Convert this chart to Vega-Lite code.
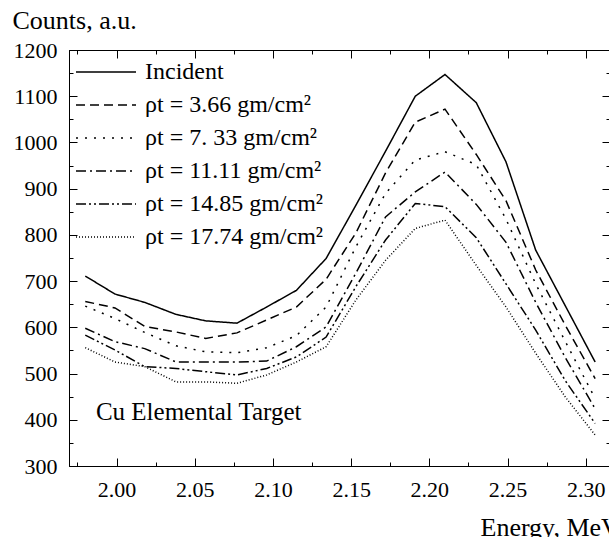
{
  "$schema": "https://vega.github.io/schema/vega-lite/v6.json",
  "autosize": {"type": "none"},
  "padding": {"left": 69, "top": 50, "right": 0, "bottom": 71},
  "width": 541,
  "height": 416,
  "background": "white",
  "config": {
    "view": {"stroke": "black", "strokeWidth": 1},
    "font": "Liberation Serif",
    "style": {
      "guide-title": {"font": "Liberation Serif", "fontSize": 26, "fontWeight": "normal", "fill": "black"},
      "guide-label": {"font": "Liberation Serif", "fontSize": 22, "fill": "black"}
    },
    "axis": {
      "domainColor": "black", "tickColor": "black", "labelColor": "black", "titleColor": "black",
      "labelFont": "Liberation Serif", "titleFont": "Liberation Serif", "grid": false,
      "labelFontSize": 22, "titleFontSize": 26, "titleFontWeight": "normal", "tickWidth": 1, "domainWidth": 1
    },
    "legend": {
      "orient": "none", "legendX": 25, "legendY": 10, "padding": 0,
      "symbolType": "M-5,0H5", "symbolSize": 144, "symbolStrokeWidth": 1.5, "symbolStrokeColor": "black",
      "labelFont": "Liberation Serif", "labelFontSize": 24, "labelColor": "black", "labelOffset": 27,
      "rowPadding": 9, "labelLimit": 400
    }
  },
  "datasets": {
    "curves": [
      {"series": "Incident", "energy": 1.980, "counts": 711},
      {"series": "Incident", "energy": 1.999, "counts": 672},
      {"series": "Incident", "energy": 2.018, "counts": 654},
      {"series": "Incident", "energy": 2.038, "counts": 628},
      {"series": "Incident", "energy": 2.057, "counts": 614},
      {"series": "Incident", "energy": 2.077, "counts": 609},
      {"series": "Incident", "energy": 2.096, "counts": 644},
      {"series": "Incident", "energy": 2.115, "counts": 680},
      {"series": "Incident", "energy": 2.134, "counts": 749},
      {"series": "Incident", "energy": 2.153, "counts": 864},
      {"series": "Incident", "energy": 2.172, "counts": 981},
      {"series": "Incident", "energy": 2.191, "counts": 1100},
      {"series": "Incident", "energy": 2.210, "counts": 1147},
      {"series": "Incident", "energy": 2.230, "counts": 1086},
      {"series": "Incident", "energy": 2.249, "counts": 958},
      {"series": "Incident", "energy": 2.268, "counts": 767},
      {"series": "Incident", "energy": 2.287, "counts": 646},
      {"series": "Incident", "energy": 2.306, "counts": 525},

      {"series": "ρt = 3.66 gm/cm²", "energy": 1.980, "counts": 656},
      {"series": "ρt = 3.66 gm/cm²", "energy": 1.999, "counts": 642},
      {"series": "ρt = 3.66 gm/cm²", "energy": 2.018, "counts": 602},
      {"series": "ρt = 3.66 gm/cm²", "energy": 2.038, "counts": 590},
      {"series": "ρt = 3.66 gm/cm²", "energy": 2.057, "counts": 576},
      {"series": "ρt = 3.66 gm/cm²", "energy": 2.077, "counts": 588},
      {"series": "ρt = 3.66 gm/cm²", "energy": 2.096, "counts": 616},
      {"series": "ρt = 3.66 gm/cm²", "energy": 2.115, "counts": 644},
      {"series": "ρt = 3.66 gm/cm²", "energy": 2.134, "counts": 704},
      {"series": "ρt = 3.66 gm/cm²", "energy": 2.153, "counts": 804},
      {"series": "ρt = 3.66 gm/cm²", "energy": 2.172, "counts": 934},
      {"series": "ρt = 3.66 gm/cm²", "energy": 2.191, "counts": 1044},
      {"series": "ρt = 3.66 gm/cm²", "energy": 2.210, "counts": 1072},
      {"series": "ρt = 3.66 gm/cm²", "energy": 2.230, "counts": 974},
      {"series": "ρt = 3.66 gm/cm²", "energy": 2.249, "counts": 874},
      {"series": "ρt = 3.66 gm/cm²", "energy": 2.268, "counts": 724},
      {"series": "ρt = 3.66 gm/cm²", "energy": 2.287, "counts": 604},
      {"series": "ρt = 3.66 gm/cm²", "energy": 2.306, "counts": 489},

      {"series": "ρt = 7. 33 gm/cm²", "energy": 1.980, "counts": 646},
      {"series": "ρt = 7. 33 gm/cm²", "energy": 1.999, "counts": 619},
      {"series": "ρt = 7. 33 gm/cm²", "energy": 2.018, "counts": 589},
      {"series": "ρt = 7. 33 gm/cm²", "energy": 2.038, "counts": 560},
      {"series": "ρt = 7. 33 gm/cm²", "energy": 2.057, "counts": 547},
      {"series": "ρt = 7. 33 gm/cm²", "energy": 2.077, "counts": 545},
      {"series": "ρt = 7. 33 gm/cm²", "energy": 2.096, "counts": 556},
      {"series": "ρt = 7. 33 gm/cm²", "energy": 2.115, "counts": 582},
      {"series": "ρt = 7. 33 gm/cm²", "energy": 2.134, "counts": 644},
      {"series": "ρt = 7. 33 gm/cm²", "energy": 2.153, "counts": 774},
      {"series": "ρt = 7. 33 gm/cm²", "energy": 2.172, "counts": 890},
      {"series": "ρt = 7. 33 gm/cm²", "energy": 2.191, "counts": 962},
      {"series": "ρt = 7. 33 gm/cm²", "energy": 2.210, "counts": 980},
      {"series": "ρt = 7. 33 gm/cm²", "energy": 2.230, "counts": 952},
      {"series": "ρt = 7. 33 gm/cm²", "energy": 2.249, "counts": 834},
      {"series": "ρt = 7. 33 gm/cm²", "energy": 2.268, "counts": 694},
      {"series": "ρt = 7. 33 gm/cm²", "energy": 2.287, "counts": 569},
      {"series": "ρt = 7. 33 gm/cm²", "energy": 2.306, "counts": 446},

      {"series": "ρt = 11.11 gm/cm²", "energy": 1.980, "counts": 598},
      {"series": "ρt = 11.11 gm/cm²", "energy": 1.999, "counts": 569},
      {"series": "ρt = 11.11 gm/cm²", "energy": 2.018, "counts": 554},
      {"series": "ρt = 11.11 gm/cm²", "energy": 2.038, "counts": 525},
      {"series": "ρt = 11.11 gm/cm²", "energy": 2.057, "counts": 525},
      {"series": "ρt = 11.11 gm/cm²", "energy": 2.077, "counts": 525},
      {"series": "ρt = 11.11 gm/cm²", "energy": 2.096, "counts": 527},
      {"series": "ρt = 11.11 gm/cm²", "energy": 2.115, "counts": 558},
      {"series": "ρt = 11.11 gm/cm²", "energy": 2.134, "counts": 601},
      {"series": "ρt = 11.11 gm/cm²", "energy": 2.153, "counts": 717},
      {"series": "ρt = 11.11 gm/cm²", "energy": 2.172, "counts": 839},
      {"series": "ρt = 11.11 gm/cm²", "energy": 2.191, "counts": 893},
      {"series": "ρt = 11.11 gm/cm²", "energy": 2.210, "counts": 936},
      {"series": "ρt = 11.11 gm/cm²", "energy": 2.230, "counts": 866},
      {"series": "ρt = 11.11 gm/cm²", "energy": 2.249, "counts": 784},
      {"series": "ρt = 11.11 gm/cm²", "energy": 2.268, "counts": 654},
      {"series": "ρt = 11.11 gm/cm²", "energy": 2.287, "counts": 534},
      {"series": "ρt = 11.11 gm/cm²", "energy": 2.306, "counts": 424},

      {"series": "ρt = 14.85 gm/cm²", "energy": 1.980, "counts": 583},
      {"series": "ρt = 14.85 gm/cm²", "energy": 1.999, "counts": 551},
      {"series": "ρt = 14.85 gm/cm²", "energy": 2.018, "counts": 515},
      {"series": "ρt = 14.85 gm/cm²", "energy": 2.038, "counts": 511},
      {"series": "ρt = 14.85 gm/cm²", "energy": 2.057, "counts": 504},
      {"series": "ρt = 14.85 gm/cm²", "energy": 2.077, "counts": 497},
      {"series": "ρt = 14.85 gm/cm²", "energy": 2.096, "counts": 511},
      {"series": "ρt = 14.85 gm/cm²", "energy": 2.115, "counts": 536},
      {"series": "ρt = 14.85 gm/cm²", "energy": 2.134, "counts": 579},
      {"series": "ρt = 14.85 gm/cm²", "energy": 2.153, "counts": 688},
      {"series": "ρt = 14.85 gm/cm²", "energy": 2.172, "counts": 789},
      {"series": "ρt = 14.85 gm/cm²", "energy": 2.191, "counts": 868},
      {"series": "ρt = 14.85 gm/cm²", "energy": 2.210, "counts": 861},
      {"series": "ρt = 14.85 gm/cm²", "energy": 2.230, "counts": 794},
      {"series": "ρt = 14.85 gm/cm²", "energy": 2.249, "counts": 694},
      {"series": "ρt = 14.85 gm/cm²", "energy": 2.268, "counts": 594},
      {"series": "ρt = 14.85 gm/cm²", "energy": 2.287, "counts": 484},
      {"series": "ρt = 14.85 gm/cm²", "energy": 2.306, "counts": 392},

      {"series": "ρt = 17.74 gm/cm²", "energy": 1.980, "counts": 556},
      {"series": "ρt = 17.74 gm/cm²", "energy": 1.999, "counts": 525},
      {"series": "ρt = 17.74 gm/cm²", "energy": 2.018, "counts": 515},
      {"series": "ρt = 17.74 gm/cm²", "energy": 2.038, "counts": 482},
      {"series": "ρt = 17.74 gm/cm²", "energy": 2.057, "counts": 482},
      {"series": "ρt = 17.74 gm/cm²", "energy": 2.077, "counts": 479},
      {"series": "ρt = 17.74 gm/cm²", "energy": 2.096, "counts": 497},
      {"series": "ρt = 17.74 gm/cm²", "energy": 2.115, "counts": 525},
      {"series": "ρt = 17.74 gm/cm²", "energy": 2.134, "counts": 558},
      {"series": "ρt = 17.74 gm/cm²", "energy": 2.153, "counts": 659},
      {"series": "ρt = 17.74 gm/cm²", "energy": 2.172, "counts": 745},
      {"series": "ρt = 17.74 gm/cm²", "energy": 2.191, "counts": 814},
      {"series": "ρt = 17.74 gm/cm²", "energy": 2.210, "counts": 832},
      {"series": "ρt = 17.74 gm/cm²", "energy": 2.230, "counts": 734},
      {"series": "ρt = 17.74 gm/cm²", "energy": 2.249, "counts": 644},
      {"series": "ρt = 17.74 gm/cm²", "energy": 2.268, "counts": 544},
      {"series": "ρt = 17.74 gm/cm²", "energy": 2.287, "counts": 449},
      {"series": "ρt = 17.74 gm/cm²", "energy": 2.306, "counts": 367}
    ],
    "notes": [
      {"label": "Cu Elemental Target", "energy": 1.9868, "counts": 400}
    ]
  },
  "layer": [
    {
      "data": {"name": "curves"},
      "mark": {"type": "line", "color": "black", "strokeWidth": 1.5},
      "encoding": {
        "x": {
          "field": "energy", "type": "quantitative",
          "scale": {"domain": [1.9696, 2.3155], "nice": false, "zero": false},
          "axis": {
            "orient": "bottom",
            "values": [1.975, 2.0, 2.025, 2.05, 2.075, 2.1, 2.125, 2.15, 2.175, 2.2, 2.225, 2.25, 2.275, 2.3],
            "labelExpr": "abs(datum.value*20 - round(datum.value*20)) < 0.001 ? format(datum.value, '.2f') : ''",
            "tickSize": {"condition": {"test": "abs(datum.value*20 - round(datum.value*20)) < 0.001", "value": -8}, "value": -4},
            "labelPadding": 21,
            "labelFlush": false,
            "labelFont": "Liberation Serif",
            "titleFont": "Liberation Serif",
            "title": "Energy, MeV",
            "titleX": 411, "titleY": 69, "titleAlign": "left", "titleBaseline": "alphabetic", "titleAnchor": "start"
          }
        },
        "y": {
          "field": "counts", "type": "quantitative",
          "scale": {"domain": [300, 1200], "nice": false, "zero": false},
          "axis": {
            "orient": "left",
            "values": [300, 350, 400, 450, 500, 550, 600, 650, 700, 750, 800, 850, 900, 950, 1000, 1050, 1100, 1150, 1200],
            "labelExpr": "datum.value % 100 === 0 ? datum.value : ''",
            "tickSize": {"condition": {"test": "datum.value % 100 === 0", "value": -8}, "value": -4},
            "labelPadding": 20,
            "labelFlush": false,
            "labelFont": "Liberation Serif",
            "titleFont": "Liberation Serif",
            "title": "Counts, a.u.",
            "titleAngle": 0, "titleX": -57, "titleY": -22, "titleAlign": "left", "titleBaseline": "alphabetic", "titleAnchor": "start"
          }
        },
        "strokeDash": {
          "field": "series", "type": "nominal",
          "scale": {
            "domain": ["Incident", "ρt = 3.66 gm/cm²", "ρt = 7. 33 gm/cm²", "ρt = 11.11 gm/cm²", "ρt = 14.85 gm/cm²", "ρt = 17.74 gm/cm²"],
            "range": [[1, 0], [9, 5], [2, 7], [10, 4, 2, 4], [10, 3, 2, 3, 2, 3], [1, 2]]
          },
          "legend": {"title": null}
        }
      }
    },
    {
      "data": {"name": "notes"},
      "mark": {"type": "text", "align": "left", "baseline": "alphabetic", "font": "Liberation Serif", "fontSize": 25, "color": "black"},
      "encoding": {
        "text": {"field": "label"},
        "x": {
          "field": "energy", "type": "quantitative",
          "scale": {"domain": [1.9696, 2.3155], "nice": false, "zero": false},
          "axis": {
            "orient": "top", "title": null, "labels": false,
            "values": [1.975, 2.0, 2.025, 2.05, 2.075, 2.1, 2.125, 2.15, 2.175, 2.2, 2.225, 2.25, 2.275, 2.3],
            "tickSize": {"condition": {"test": "abs(datum.value*20 - round(datum.value*20)) < 0.001", "value": -8}, "value": -4}
          }
        },
        "y": {
          "field": "counts", "type": "quantitative",
          "scale": {"domain": [300, 1200], "nice": false, "zero": false},
          "axis": {
            "orient": "right", "title": null, "labels": false,
            "values": [300, 350, 400, 450, 500, 550, 600, 650, 700, 750, 800, 850, 900, 950, 1000, 1050, 1100, 1150, 1200],
            "tickSize": {"condition": {"test": "datum.value % 100 === 0", "value": -8}, "value": -4}
          }
        }
      }
    }
  ],
  "resolve": {"scale": {"x": "independent", "y": "independent"}}
}
